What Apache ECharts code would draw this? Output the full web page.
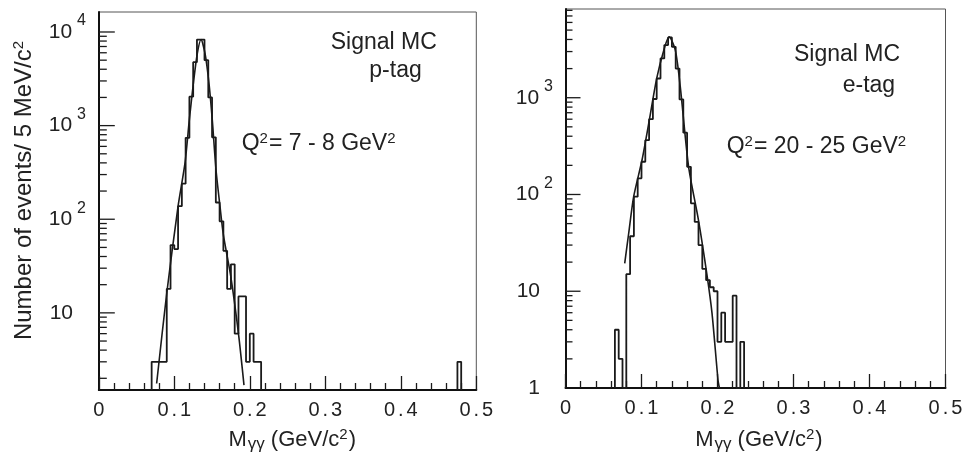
<!DOCTYPE html>
<html><head><meta charset="utf-8">
<script src="https://cdn.jsdelivr.net/npm/echarts@6/dist/echarts.min.js"></script>
<style>html,body{margin:0;padding:0;background:#fff}#c{width:966px;height:464px}</style>
</head><body><div id="c"></div>
<script>
// ---------- data ----------
const binWidth = 0.005;
const xTickValues = [0, 0.1, 0.2, 0.3, 0.4, 0.5];

// left panel: p-tag, Q^2 = 7 - 8 GeV^2
const leftStart = 0.070;
const leftCounts = [3,3,3,3,18,53,48,138,240,740,2040,4760,8300,8300,5000,2000,750,151,95,46,18,33,6,15,15,3,6,3,3];
const leftOutlierStart = 0.475;
const leftOutlierCounts = [3];
const leftFitX = [0.0766,0.0899,0.105,0.1142,0.1199,0.1252,0.1305,0.1354,0.1407,0.146,0.1503,0.1552,0.1605,0.165,0.175,0.185,0.1923];
const leftFitY = [1.76,16,138,400,1150,2800,5900,8300,5900,2800,1150,340,138,68,24,6,1.69];

// right panel: e-tag, Q^2 = 20 - 25 GeV^2
const rightStart = 0.065;
const rightCounts = [4,2,0,15,37,95,147,218,364,600,970,1580,2550,3500,4200,3360,2000,960,435,193,81,52,30,17,13,11,10,3,6,3,3,9,0,3];
const rightFitX = [0.0779,0.0832,0.0897,0.1007,0.1103,0.12,0.13,0.1363,0.1445,0.151,0.162,0.175,0.186,0.1928,0.2007,0.2025];
const rightFitY = [19.4,40,95,227,587,1585,3230,4260,3100,1300,193,54,15,5.9,1.2,1.0];

// ---------- helpers ----------
const FONT = "'Liberation Sans', Arial, Helvetica, sans-serif";
const INK = '#1a1a1a';
const L = {min: 1.5, max: 16350};
const R = {min: 1, max: 8260};

function histPoints(start, counts, floor) {
  const pts = [[start, floor]];
  counts.forEach((c, i) => pts.push([+(start + i * binWidth).toFixed(4), c > 0 ? c : floor]));
  pts.push([+(start + counts.length * binWidth).toFixed(4), floor]);
  return pts;
}
function zip(xs, ys) { return xs.map((x, i) => [x, ys[i]]); }
function logTicks(min, max) {
  const out = [];
  for (let e = -1; e <= 5; e++) {
    for (let m = 1; m <= 9; m++) {
      const v = m * Math.pow(10, e);
      if (v > min * 1.0001 && v < max) out.push([0, v, m === 1 ? 1 : 0]);
    }
  }
  return out;
}

function xAxisCfg(gi) {
  return {
    type: 'value', gridIndex: gi, min: 0, max: 0.5, interval: 0.1,
    axisLine: {show: true, onZero: false, lineStyle: {color: '#111', width: 2}},
    axisTick: {show: true, inside: true, length: 14, lineStyle: {color: INK, width: 1.3}},
    minorTick: {show: true, splitNumber: 5, length: 7, lineStyle: {color: INK, width: 1.3}},
    splitLine: {show: false}, minorSplitLine: {show: false},
    axisLabel: {
      margin: 10,
      formatter: v => {
        const s = Math.abs(v) < 1e-9 ? '0' : v.toFixed(1);
        return s.split('').map(c => '{d|' + c + '}').join('');
      },
      rich: {d: {fontSize: 20, fontFamily: FONT, color: '#222', padding: [0, 1.5]}}
    }
  };
}
function yAxisCfg(gi, lim, margin) {
  return {
    type: 'log', logBase: 10, gridIndex: gi, min: lim.min, max: lim.max,
    axisLine: {show: true, onZero: false, lineStyle: {color: '#111', width: 2}},
    axisTick: {show: false}, splitLine: {show: false}, minorTick: {show: false},
    axisLabel: {
      align: 'left', margin: margin,
      showMinLabel: true, showMaxLabel: true,
      formatter: v => {
        const e = Math.log10(v), r = Math.round(e);
        if (Math.abs(e - r) > 1e-6) return '';
        if (r === 0) return '{b|1}';
        if (r === 1) return '{b|10}';
        return '{b|10}{s|' + r + '}';
      },
      rich: {
        b: {fontSize: 21, fontFamily: FONT, color: '#222', width: 25, align: 'right', lineHeight: 22},
        s: {fontSize: 16, fontFamily: FONT, color: '#222', lineHeight: 16, padding: [0, 0, 22, 4]}
      }
    }
  };
}
function tickSeries(gi, lim, majorLen, minorLen) {
  return {
    type: 'custom', xAxisIndex: gi, yAxisIndex: gi, silent: true, clip: false,
    data: logTicks(lim.min, lim.max),
    encode: {x: 0, y: 1},
    renderItem: (params, api) => {
      const p = api.coord([0, api.value(1)]);
      const len = api.value(2) ? majorLen : minorLen;
      return {type: 'line', shape: {x1: p[0], y1: p[1], x2: p[0] + len, y2: p[1]},
              style: {stroke: INK, lineWidth: 1.3}};
    },
    z: 3
  };
}
function histSeries(gi, pts) {
  return {type: 'line', xAxisIndex: gi, yAxisIndex: gi, data: pts, step: 'end',
          showSymbol: false, symbol: 'none', clip: true,
          lineStyle: {color: INK, width: 1.8}, z: 4, animation: false};
}
function fitSeries(gi, pts) {
  return {type: 'line', xAxisIndex: gi, yAxisIndex: gi, data: pts, smooth: 0.25,
          showSymbol: false, symbol: 'none', clip: true,
          lineStyle: {color: INK, width: 1.6}, z: 5, animation: false};
}

function txt(x, y, text, align, size) {
  size = size || 23;
  return {type: 'text', x: x, y: y, silent: true, z: 10,
          style: {text: text, align: align || 'left', verticalAlign: 'middle',
                  font: size + 'px ' + FONT, fill: '#222',
                  rich: {
                    n: {fontSize: size, fontFamily: FONT, color: '#222', lineHeight: size + 2},
                    s: {fontSize: 15, fontFamily: FONT, color: '#222', lineHeight: 15, padding: [0, 1, 10, 0]},
                    g: {fontSize: 17, fontFamily: FONT, color: '#222', lineHeight: 17, padding: [8, 0, 0, 1]}
                  }}};
}

const chart = echarts.init(document.getElementById('c'), null, {renderer: 'canvas'});
chart.setOption({
  animation: false,
  backgroundColor: '#fff',
  grid: [
    {left: 98.8, top: 12, width: 377.5, height: 378, show: true, borderColor: '#555', borderWidth: 1, backgroundColor: 'transparent'},
    {left: 565.5, top: 9, width: 380, height: 379, show: true, borderColor: '#555', borderWidth: 1, backgroundColor: 'transparent'}
  ],
  xAxis: [xAxisCfg(0), xAxisCfg(1)],
  yAxis: [yAxisCfg(0, L, 50.8), yAxisCfg(1, R, 50.5)],
  series: [
    tickSeries(0, L, 16, 8),
    tickSeries(1, R, 15, 7),
    histSeries(0, histPoints(leftStart, leftCounts, L.min)),
    histSeries(0, histPoints(leftOutlierStart, leftOutlierCounts, L.min)),
    fitSeries(0, zip(leftFitX, leftFitY)),
    histSeries(1, histPoints(rightStart, rightCounts, R.min)),
    fitSeries(1, zip(rightFitX, rightFitY))
  ],
  graphic: [
    txt(330.7, 42.5, '{n|Signal MC}'),
    txt(369.3, 70.4, '{n|p-tag}'),
    txt(241.7, 143.8, '{n|Q}{s|2}{n|= 7 - 8 GeV}{s|2}'),
    txt(794, 54.5, '{n|Signal MC}'),
    txt(842.7, 85.4, '{n|e-tag}'),
    txt(726.7, 147, '{n|Q}{s|2}{n|= 20 - 25 GeV}{s|2}'),
    txt(356, 440, '{n|M}{g|γγ}{n| (GeV/c}{s|2}{n|)}', 'right', 22),
    txt(822.7, 440, '{n|M}{g|γγ}{n| (GeV/c}{s|2}{n|)}', 'right', 22),
    Object.assign(txt(24, 190, '{n|Number of events/ 5 MeV/c}{s|2}', 'center', 24), {rotation: Math.PI / 2})
  ]
});
</script>
</body></html>
